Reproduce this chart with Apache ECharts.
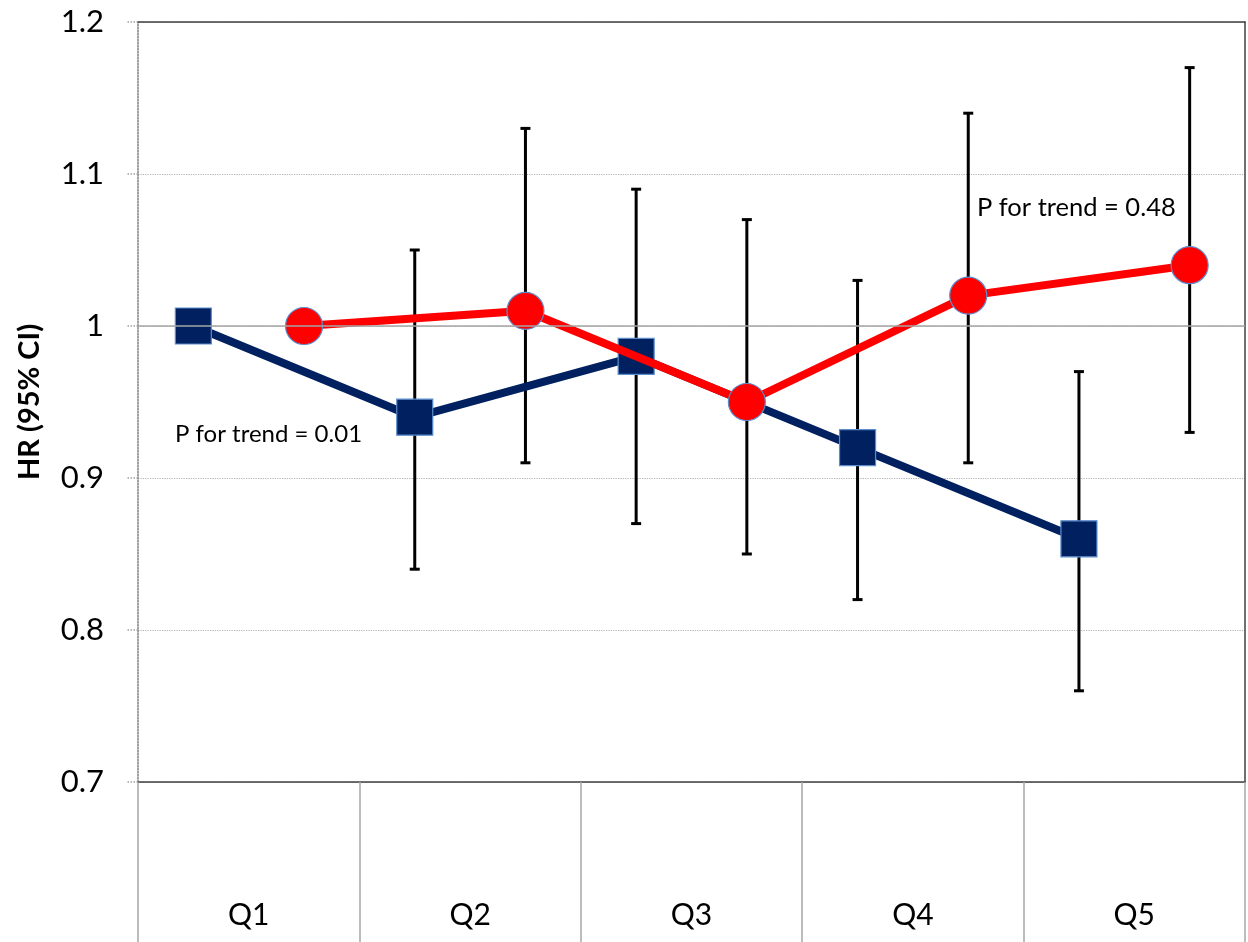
<!DOCTYPE html>
<html><head><meta charset="utf-8">
<script src="https://cdn.jsdelivr.net/npm/echarts@6/dist/echarts.min.js"></script>
<style>html,body{margin:0;padding:0;background:#fff}#c{width:1248px;height:942px}</style>
</head><body><div id="c"></div>
<script>
const categories = ['Q1','Q2','Q3','Q4','Q5'];
const blueHR = [1.00, 0.94, 0.98, 0.92, 0.86];
const blueLow = [null, 0.84, 0.87, 0.82, 0.76];
const blueHigh = [null, 1.05, 1.09, 1.03, 0.97];
const redHR = [1.00, 1.01, 0.95, 1.02, 1.04];
const redLow = [null, 0.91, 0.85, 0.91, 0.93];
const redHigh = [null, 1.13, 1.07, 1.14, 1.17];
const yTicks = [0.7, 0.8, 0.9, 1.0, 1.1, 1.2];
const annotations = ['P for trend = 0.01', 'P for trend = 0.48'];

const FONT = 'Lato, "Open Sans", sans-serif';
const blueOffset = 0.25, redOffset = 0.75;
const bluePts = blueHR.map((v,i)=>[i+blueOffset, v]);
const redPts = redHR.map((v,i)=>[i+redOffset, v]);
const errData = [];
blueLow.forEach((l,i)=>{ if(l!=null) errData.push([i+blueOffset, l, blueHigh[i]]); });
redLow.forEach((l,i)=>{ if(l!=null) errData.push([i+redOffset, l, redHigh[i]]); });

const chart = echarts.init(document.getElementById('c'));
chart.setOption({
  animation: false,
  backgroundColor: '#fff',
  grid: {left: 138, right: 3, top: 22, bottom: 160, show: false},
  xAxis: [
    {type: 'category', data: categories, position: 'bottom', boundaryGap: true,
     axisLine: {show: true, lineStyle: {color: '#404040', width: 1.5}},
     axisTick: {show: true, length: 160, lineStyle: {color: '#a6a6a6', width: 1.5}},
     axisLabel: {margin: 118, fontSize: 30, color: '#000', fontFamily: FONT},
     splitLine: {show: false}},
    {type: 'value', min: 0, max: 5, position: 'top',
     axisLine: {show: true, onZero: false, lineStyle: {color: '#404040', width: 1.5}},
     axisTick: {show: false}, axisLabel: {show: false}, splitLine: {show: false}}
  ],
  yAxis: [
    {type: 'value', min: yTicks[0], max: yTicks[yTicks.length-1], interval: 0.1,
     name: 'HR (95% CI)', nameLocation: 'middle', nameGap: 94,
     nameTextStyle: {fontSize: 29, fontWeight: 'bold', color: '#000', fontFamily: FONT},
     axisLine: {show: true, lineStyle: {color: '#808080', width: 1.5, type: 'dotted'}},
     axisTick: {show: true, length: 11, lineStyle: {color: '#a0a0a0', type: 'dotted', width: 1.5}},
     axisLabel: {fontSize: 31, color: '#000', margin: 34, fontFamily: FONT,
                 formatter: v => String(Math.round(v*10)/10)},
     splitLine: {show: true, lineStyle: {color: '#b0b0b0', type: 'dotted', width: 1.2}}},
    {type: 'value', min: yTicks[0], max: yTicks[yTicks.length-1], position: 'right',
     axisLine: {show: true, lineStyle: {color: '#404040', width: 1.5}},
     axisTick: {show: false}, axisLabel: {show: false}, splitLine: {show: false}}
  ],
  series: [
    {type: 'line', xAxisIndex: 1, yAxisIndex: 0, data: [], silent: true,
     markLine: {silent: true, symbol: 'none', label: {show: false},
       lineStyle: {color: '#a6a6a6', type: 'solid', width: 1.5},
       data: [{yAxis: 1.0}]}, z: 1},
    {type: 'custom', xAxisIndex: 1, yAxisIndex: 0, data: errData, z: 2,
     renderItem: function(params, api){
       const x = api.value(0);
       const lo = api.coord([x, api.value(1)]);
       const hi = api.coord([x, api.value(2)]);
       const cap = 5;
       const st = {stroke: '#000', lineWidth: 3};
       return {type: 'group', children: [
         {type: 'line', shape: {x1: lo[0], y1: lo[1], x2: hi[0], y2: hi[1]}, style: st},
         {type: 'line', shape: {x1: lo[0]-cap, y1: lo[1], x2: lo[0]+cap, y2: lo[1]}, style: st},
         {type: 'line', shape: {x1: hi[0]-cap, y1: hi[1], x2: hi[0]+cap, y2: hi[1]}, style: st}
       ]};
     }},
    {type: 'line', xAxisIndex: 1, yAxisIndex: 0, data: bluePts, z: 3,
     symbol: 'rect', symbolSize: 36,
     lineStyle: {color: '#002060', width: 8},
     itemStyle: {color: '#002060', borderColor: '#5b8ccc', borderWidth: 1.2}},
    {type: 'line', xAxisIndex: 1, yAxisIndex: 0, data: redPts, z: 4,
     symbol: 'circle', symbolSize: 37,
     lineStyle: {color: '#ff0000', width: 8},
     itemStyle: {color: '#ff0000', borderColor: '#5b8ccc', borderWidth: 1.2}}
  ],
  graphic: [
    {type: 'text', left: 175, top: 422, style: {text: annotations[0], fontSize: 24, fill: '#000', fontFamily: FONT}},
    {type: 'text', left: 977, top: 195, style: {text: annotations[1], fontSize: 25.5, fill: '#000', fontFamily: FONT}}
  ]
});
</script></body></html>
